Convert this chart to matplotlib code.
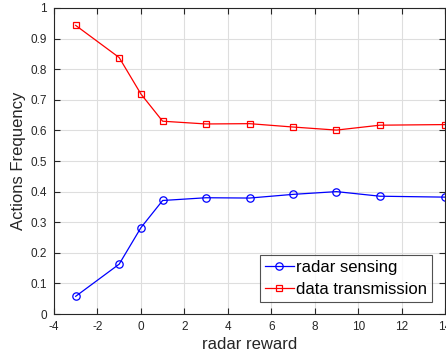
import matplotlib
matplotlib.use("Agg")
import matplotlib.pyplot as plt

plt.rcParams['font.family'] = ['Liberation Sans', 'DejaVu Sans']
plt.rcParams['axes.unicode_minus'] = False

radar_reward = [-3, -1, 0, 1, 3, 5, 7, 9, 11, 14]
radar_sensing = [0.058, 0.163, 0.282, 0.371, 0.380, 0.379, 0.391, 0.400, 0.385, 0.382]
data_transmission = [0.943, 0.838, 0.719, 0.630, 0.621, 0.622, 0.611, 0.601, 0.617, 0.619]

fig = plt.figure(figsize=(4.46, 3.61), dpi=100)
ax = fig.add_axes([0.121, 0.130, 0.877, 0.848])

ax.plot(radar_reward, radar_sensing, '-o', color='#0000ff', lw=0.9,
        markersize=5.3, markerfacecolor='none', markeredgewidth=0.9,
        label='radar sensing')
ax.plot(radar_reward, data_transmission, '-s', color='#ff0000', lw=0.9,
        markersize=4.3, markerfacecolor='none', markeredgewidth=0.9,
        label='data transmission')

ax.set_xlim(-4, 14)
ax.set_ylim(0, 1)
ax.set_xticks(range(-4, 15, 2))
ax.set_yticks([i / 10 for i in range(11)])
ax.set_yticklabels(['0', '0.1', '0.2', '0.3', '0.4', '0.5', '0.6', '0.7', '0.8', '0.9', '1'])

ax.grid(True, color='#dedede', lw=0.8)
ax.set_axisbelow(True)
for s in ax.spines.values():
    s.set_color('#262626')
    s.set_linewidth(0.8)
ax.tick_params(direction='in', top=True, right=True, length=4, width=0.8,
               colors='#262626', labelsize=8.5, pad=5)

ax.set_xlabel('radar reward', fontsize=12, color='#262626', labelpad=3)
ax.set_ylabel('Actions Frequency', fontsize=12, color='#262626', labelpad=3)

leg = ax.legend(loc='lower right', bbox_to_anchor=(0.967, 0.04), fontsize=12,
                frameon=True, fancybox=False, handlelength=1.75, handletextpad=0.15,
                borderpad=0.3, labelspacing=0.4, borderaxespad=0)
leg.get_frame().set_edgecolor('#262626')
leg.get_frame().set_linewidth(0.8)

fig.savefig('out.png', dpi=100)
